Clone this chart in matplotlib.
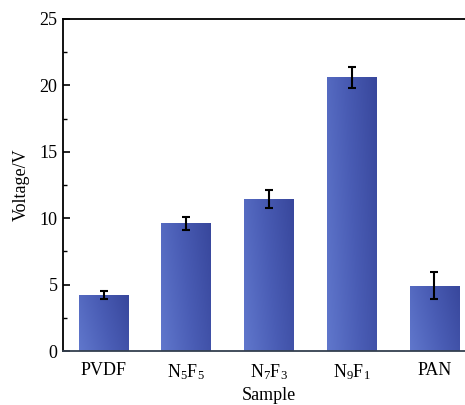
import numpy as np
import matplotlib
matplotlib.use('Agg')
import matplotlib.pyplot as plt
from matplotlib.colors import LinearSegmentedColormap
from matplotlib.ticker import MultipleLocator

plt.rcParams['font.family'] = 'Liberation Serif'
plt.rcParams['mathtext.fontset'] = 'custom'
plt.rcParams['mathtext.rm'] = 'Liberation Serif'
plt.rcParams['mathtext.it'] = 'Liberation Serif'

# data
samples = ['PVDF', r'N$_5$F$_5$', r'N$_7$F$_3$', r'N$_9$F$_1$', 'PAN']
voltage = [4.22, 9.6, 11.45, 20.6, 4.92]
voltage_err = [0.3, 0.5, 0.65, 0.77, 1.0]

fig = plt.figure(figsize=(4.65, 4.05), dpi=100)
ax = fig.add_axes([0.1355, 0.1333, 0.886, 0.82])

x = np.arange(len(samples))
bars = ax.bar(x, voltage, width=0.6, color='none', edgecolor='none', zorder=2)

# gradient fill, lighter bottom-left to darker top-right
cmap = LinearSegmentedColormap.from_list('bluegrad', ['#6077cc', '#4a5db5', '#38479c'])
gx, gy = np.meshgrid(np.linspace(0, 1, 64), np.linspace(0, 1, 64))
grad = 0.75 * gx + 0.25 * gy
for b in bars:
    x0, y0 = b.get_x(), b.get_y()
    w, h = b.get_width(), b.get_height()
    im = ax.imshow(grad, cmap=cmap, extent=[x0, x0 + w, y0, y0 + h],
                   origin='lower', aspect='auto', zorder=2, vmin=0, vmax=1)
    im.set_clip_path(b)

ax.errorbar(x, voltage, yerr=voltage_err, fmt='none', ecolor='black',
            elinewidth=1.5, capsize=3, capthick=1.5, zorder=3)

ax.set_xlim(-0.49, 4.49)
ax.set_ylim(0, 25)
ax.set_xticks(x)
ax.set_xticklabels(samples)
ax.yaxis.set_major_locator(MultipleLocator(5))
ax.yaxis.set_minor_locator(MultipleLocator(2.5))
ax.tick_params(axis='y', which='major', direction='in', length=5, width=1.2, labelsize=13, pad=4)
ax.tick_params(axis='y', which='minor', direction='in', length=3, width=1.0)
ax.tick_params(axis='x', length=0, labelsize=13, pad=8)
for s in ax.spines.values():
    s.set_linewidth(1.3)
ax.spines['bottom'].set_color('#34404f')

ax.set_xlabel('Sample', fontsize=13, labelpad=4)
ax.set_ylabel('Voltage/V', fontsize=13, labelpad=7)

fig.savefig('out.png', dpi=100)
